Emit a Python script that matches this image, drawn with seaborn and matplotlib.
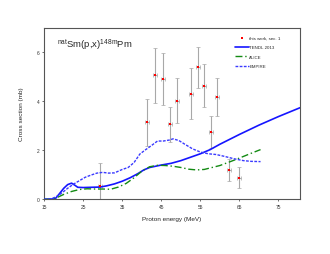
import numpy as np
import pandas as pd
import matplotlib
matplotlib.use('Agg')
import matplotlib.pyplot as plt
import seaborn as sns

# experimental points (this work)
exp_e = [29.3, 41.3, 43.4, 45.35, 47.3, 49.1, 52.6, 54.5, 56.0, 57.6, 59.3, 62.3, 65.0]
exp_cs = [0.53, 3.14, 5.06, 4.91, 3.06, 4.03, 4.31, 5.39, 4.64, 2.74, 4.18, 1.2, 0.89]
exp_err = [0.95, 0.97, 1.13, 1.07, 0.73, 0.93, 1.04, 0.84, 0.88, 0.65, 0.78, 0.45, 0.43]
exp_eerr = [0.5] * len(exp_e)

# model curves
tendl_e = [15, 17, 18, 19, 20, 21, 22, 22.8, 23.6, 25, 27, 29.3, 31, 33, 35, 37, 39, 40.5,
           42, 45, 47.5, 50, 55, 57.5, 60, 65, 70, 75, 80.5]
tendl_cs = [0, 0.01, 0.05, 0.25, 0.45, 0.6, 0.66, 0.58, 0.49, 0.48, 0.49, 0.5, 0.55, 0.63,
            0.74, 0.88, 1.05, 1.2, 1.3, 1.4, 1.47, 1.58, 1.86, 2.03, 2.25, 2.65, 3.03, 3.38, 3.74]

alice_e = [15, 17, 18, 20, 22, 24, 26, 28, 30, 32, 34, 36, 38, 40, 42, 44, 46, 48, 50, 52,
           54, 56, 58, 60, 62, 64, 66, 68, 70.4]
alice_cs = [0, 0.01, 0.05, 0.2, 0.32, 0.4, 0.43, 0.42, 0.42, 0.41, 0.5, 0.65, 0.88, 1.15,
            1.33, 1.39, 1.38, 1.35, 1.3, 1.23, 1.2, 1.22, 1.3, 1.38, 1.5, 1.62, 1.75, 1.88, 2.03]

empire_e = [15, 17, 18, 19, 20, 21, 22.5, 24, 25.5, 27, 28.5, 30, 31.5, 33, 35, 36.5, 38,
            39.5, 41, 42.5, 44, 45.5, 47, 48, 49.5, 51, 53, 55, 57, 59, 61, 63.5, 66, 68, 70.4]
empire_cs = [0, 0.03, 0.1, 0.2, 0.32, 0.45, 0.62, 0.76, 0.9, 0.99, 1.07, 1.1, 1.07, 1.08,
             1.22, 1.3, 1.5, 1.85, 2.03, 2.2, 2.38, 2.38, 2.42, 2.47, 2.4, 2.25, 2.06, 1.93,
             1.86, 1.83, 1.76, 1.66, 1.58, 1.55, 1.54]

x_ticks = [15, 25, 35, 45, 55, 65, 75]
y_ticks = [0, 2, 4, 6]

sns.set_style('white')
plt.rcParams['font.family'] = ['Liberation Sans', 'DejaVu Sans']
plt.rcParams['mathtext.fontset'] = 'custom'
plt.rcParams['mathtext.rm'] = 'Liberation Sans'

fig = plt.figure(figsize=(3.3, 2.55), dpi=100)
ax = fig.add_axes([0.134, 0.2145, 0.775, 0.672])

# experimental data
ax.errorbar(exp_e, exp_cs, yerr=exp_err, xerr=exp_eerr, fmt='none', ecolor='#a8a8a8',
            elinewidth=0.8, capsize=1.2, capthick=0.5, zorder=2)
sns.scatterplot(x=exp_e, y=exp_cs, color='#ff0000', marker='s', s=4.5, linewidth=0,
                ax=ax, zorder=4, label='this work, sec. 1')

# models
sns.lineplot(x=tendl_e, y=tendl_cs, color='#1515ff', lw=1.2, ax=ax, label='TENDL 2013', zorder=3)
sns.lineplot(x=alice_e, y=alice_cs, color='#138a13', lw=1.0, ax=ax, label='ALICE', zorder=3,
             dashes=False, linestyle=(0, (5, 2, 1, 2)))
sns.lineplot(x=empire_e, y=empire_cs, color='#3a3aff', lw=1.0, ax=ax, label='EMPIRE', zorder=3,
             linestyle=(0, (2, 1)))

ax.set_xlim(15, 80.5)
ax.set_ylim(0, 7)
ax.set_xticks(x_ticks)
ax.set_yticks(y_ticks)
ax.tick_params(labelsize=3.5, length=1.5, width=0.5, pad=2, colors='#333333', direction='out')
ax.tick_params(axis='both', bottom=True, left=True)
for sp in ax.spines.values():
    sp.set_color('#555555')
    sp.set_linewidth(0.8)

ax.set_xlabel('Proton energy (MeV)', fontsize=4.6, labelpad=5)
ax.set_ylabel('Cross section (mb)', fontsize=4.6, labelpad=9)

ax.text(0.05, 0.885, r'$^{\mathrm{nat}}$Sm(p,x)$^{\mathrm{148m}}$Pm', transform=ax.transAxes,
        fontsize=6.8, va='baseline', ha='left')

leg = ax.legend(loc='upper left', bbox_to_anchor=(0.74, 0.965), frameon=False, fontsize=3.2,
                labelspacing=1.2, handlelength=3.0, handletextpad=0.2, borderaxespad=0)

fig.savefig('out.png', dpi=100)
